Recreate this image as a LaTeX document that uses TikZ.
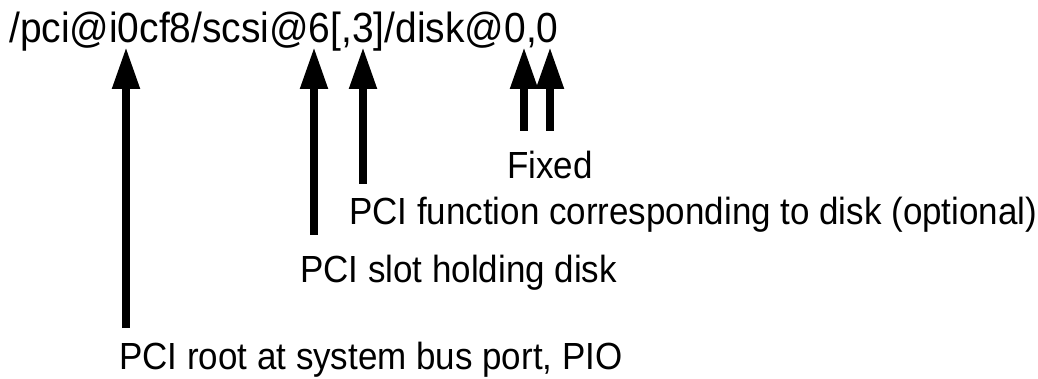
\documentclass[tikz,border=0pt]{standalone}
\usepackage{fontspec}
\setmainfont{Liberation Sans}[FakeStretch=0.925]
\usetikzlibrary{arrows.meta}
\begin{document}
\begin{tikzpicture}[x=1pt,y=-1pt,
  devpath/.style={font=\fontsize{42.1}{50}\selectfont, inner sep=0pt, anchor=base west},
  note/.style={font=\fontsize{37.8}{45}\selectfont, inner sep=0pt, anchor=base west},
  pointer/.style={line width=8pt, -{Triangle[length=42pt,width=26pt]}}]
\useasboundingbox (0,0) rectangle (1038,379);

% device path
\node[devpath] (path) at (9,43) {/pci@i0cf8/scsi@6[,3]/disk@0,0};

% explanations
\node[note] (fixed) at (507,178.3) {Fixed};
\node[note] (func)  at (349,225)   {PCI function corresponding to disk (optional)};
\node[note] (slot)  at (300,282.7) {PCI slot holding disk};
\node[note] (root)  at (119,369.3) {PCI root at system bus port, PIO};

% arrow tips under the path components
\coordinate (tipRoot)  at (126,47);
\coordinate (tipSlot)  at (314,47);
\coordinate (tipFunc)  at (363,47);
\coordinate (tipFixA)  at (524,47);
\coordinate (tipFixB)  at (550,47);

% arrow tails above the explanations
\coordinate (tailRoot) at (126,328);
\coordinate (tailSlot) at (314,235);
\coordinate (tailFunc) at (363,184);
\coordinate (tailFixA) at (524,130.7);
\coordinate (tailFixB) at (550,130.7);

\draw[pointer] (tailRoot) -- (tipRoot);
\draw[pointer] (tailSlot) -- (tipSlot);
\draw[pointer] (tailFunc) -- (tipFunc);
\draw[pointer] (tailFixA) -- (tipFixA);
\draw[pointer] (tailFixB) -- (tipFixB);
\end{tikzpicture}
\end{document}
